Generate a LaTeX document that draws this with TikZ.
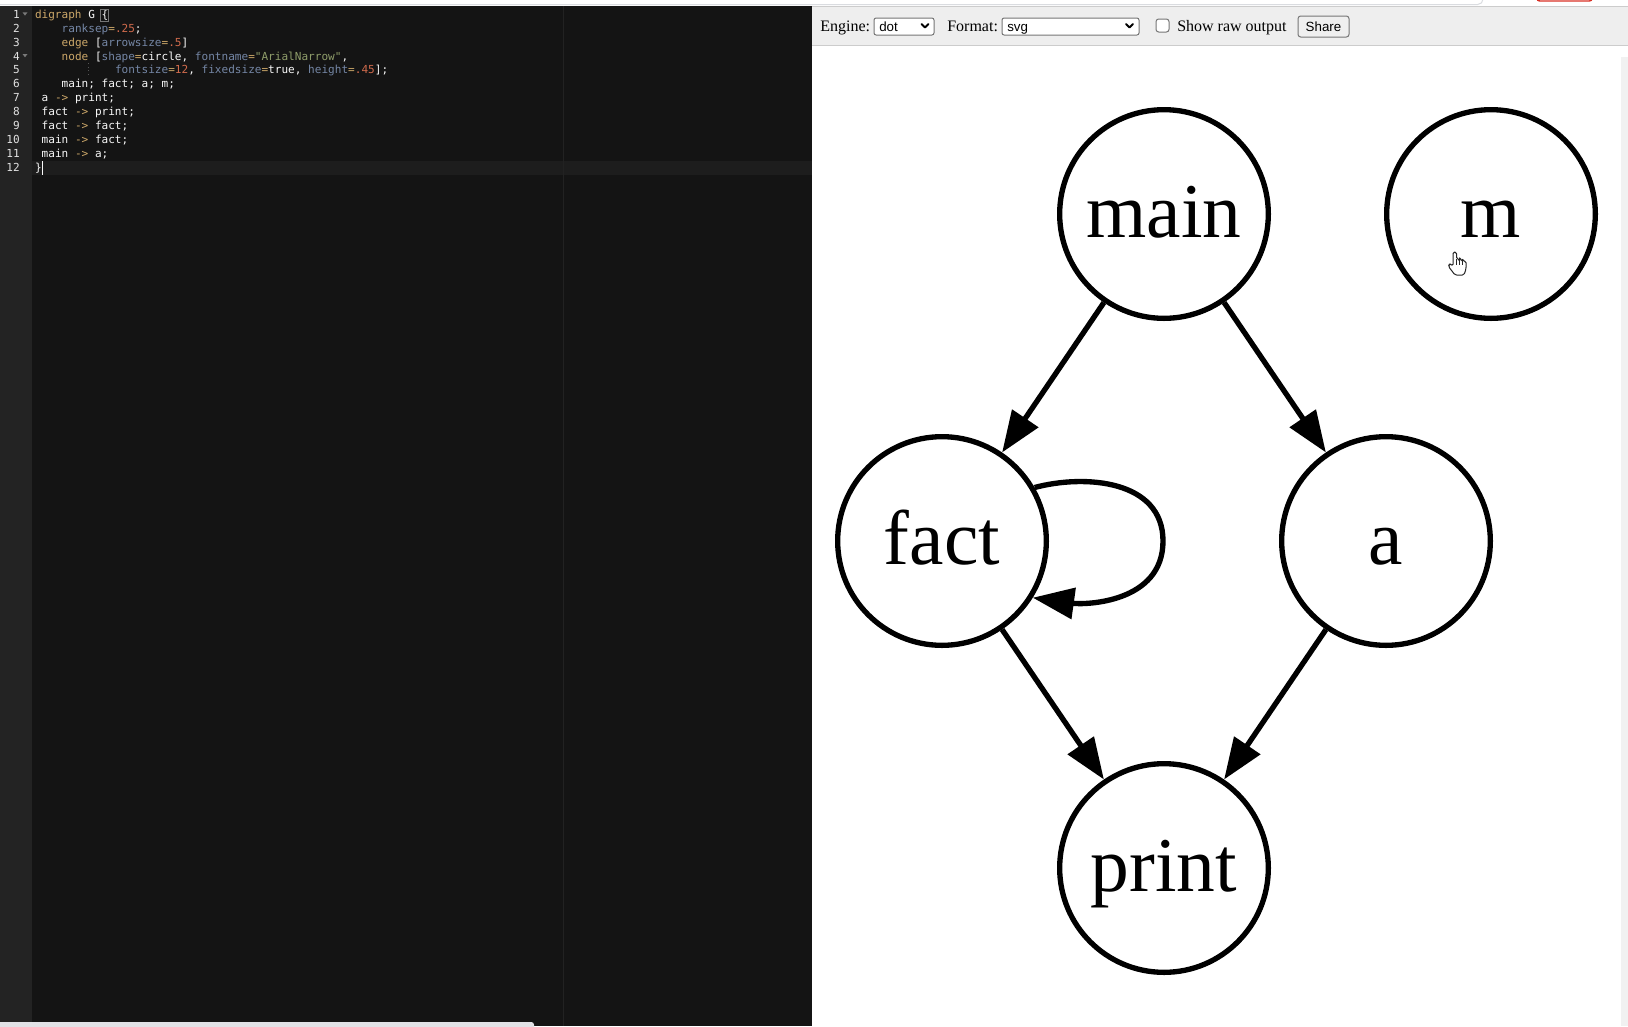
\documentclass[tikz,border=0pt]{standalone}
\usepackage{fontspec}
\setmainfont{Liberation Serif}
\newfontfamily\codefont{DejaVu Sans Mono}
\newfontfamily\uisans{Liberation Sans}
\newfontfamily\uiserif{Liberation Serif}
\usetikzlibrary{arrows.meta}
\definecolor{edbg}{HTML}{141414}
\definecolor{guttercol}{HTML}{232323}
\definecolor{activecol}{HTML}{1D1D1D}
\definecolor{margincol}{HTML}{222222}
\definecolor{ckwcol}{HTML}{CDA869}
\definecolor{cnumcol}{HTML}{CF6A4C}
\definecolor{cstrcol}{HTML}{8F9D6A}
\definecolor{cvarcol}{HTML}{7587A6}
\definecolor{ctxcol}{HTML}{F8F8F8}
\definecolor{lnumcol}{HTML}{E2E2E2}
\definecolor{foldcol}{HTML}{7A7A7A}
\definecolor{toolbg}{HTML}{EEEEEE}
\definecolor{toolline}{HTML}{CCCCCC}
\definecolor{ctrlborder}{HTML}{767676}
\definecolor{btnbg}{HTML}{EFEFEF}
\definecolor{topgray}{HTML}{DADCE0}
\definecolor{topred}{HTML}{D93025}
\definecolor{sbarcol}{HTML}{E2E2E6}
\definecolor{vbarcol}{HTML}{F1F1F1}
\newcommand\ckw[1]{\textcolor{ckwcol}{#1}}
\newcommand\cnum[1]{\textcolor{cnumcol}{#1}}
\newcommand\cstr[1]{\textcolor{cstrcol}{#1}}
\newcommand\cvar[1]{\textcolor{cvarcol}{#1}}
\newcommand\ctx[1]{\textcolor{ctxcol}{#1}}
\tikzset{
  codeline/.style={anchor=base west, inner sep=0pt, outer sep=0pt, text=ctxcol, font=\codefont\fontsize{8.3pt}{10pt}\selectfont},
  lnum/.style={anchor=base east, inner sep=0pt, text=lnumcol, font=\codefont\fontsize{8.3pt}{10pt}\selectfont},
  uitext/.style={anchor=base west, inner sep=0pt, text=black, font=\uiserif\fontsize{12pt}{14pt}\selectfont},
  ctrltext/.style={anchor=base west, inner sep=0pt, text=black, font=\uisans\fontsize{10pt}{12pt}\selectfont},
  ctrlbox/.style={draw=ctrlborder, fill=white, line width=0.75pt, rounded corners=1.6pt},
  chevron/.style={draw=black, line width=1.4pt, line cap=round, line join=round},
  gnode/.style={circle, draw=black, line width=4pt, minimum size=156.5pt, inner sep=0pt,
    font=\fontsize{58.1pt}{60pt}\selectfont, text height=34.5pt, text depth=0pt},
  gedge/.style={draw=black, line width=4pt, -{Triangle[length=31pt,width=23pt]}}
}
\begin{document}
\begin{tikzpicture}[x=0.75pt,y=-0.75pt]
\useasboundingbox (0,0) rectangle (1628,1026);
% page background
\fill[white] (0,0) rectangle (1628,1026);
% top strip
\draw[draw=topgray, fill=white, line width=0.75pt, rounded corners=4pt] (-10,-10) rectangle (1483,4.5);
\draw[draw=topred, line width=1.1pt, rounded corners=2pt] (1537,-10) rectangle (1592,1);
% editor
\fill[edbg] (0,6) rectangle (812,1026);
\fill[guttercol] (0,6) rectangle (32,1026);
\fill[activecol] (32,161) rectangle (812,175);
\draw[margincol, line width=0.75pt] (563.5,6) -- (563.5,1026);
\fill[sbarcol, rounded corners=2pt] (-6,1022) rectangle (534,1032);
% line numbers
\foreach \i in {1,...,12} {
  \node[lnum] (ln\i) at (20,{18.3+(\i-1)*13.9}) {\i};
}
% fold markers
\fill[foldcol] (22.5,12.3) -- (27.5,12.3) -- (25,15.6) -- cycle;
\fill[foldcol] (22.5,54.0) -- (27.5,54.0) -- (25,57.3) -- cycle;
% code
\node[codeline] (c1) at (35,18.3) {\ckw{digraph}\ctx{\ G\ \{}};
\node[codeline] (c2) at (61.7,32.2) {\cvar{ranksep}\ckw{=}\cnum{.25}\ctx{;}};
\node[codeline] (c3) at (61.7,46.1) {\ckw{edge}\ctx{\ [}\cvar{arrowsize}\ckw{=}\cnum{.5}\ctx{]}};
\node[codeline] (c4) at (61.7,60.0) {\ckw{node}\ctx{\ [}\cvar{shape}\ckw{=}\ctx{circle,\ }\cvar{fontname}\ckw{=}\cstr{"ArialNarrow"}\ctx{,}};
\node[codeline] (c5) at (115,73.9) {\cvar{fontsize}\ckw{=}\cnum{12}\ctx{,\ }\cvar{fixedsize}\ckw{=}\ctx{true,\ }\cvar{height}\ckw{=}\cnum{.45}\ctx{];}};
\node[codeline] (c6) at (61.7,87.8) {\ctx{main;\ fact;\ a;\ m;}};
\node[codeline] (c7) at (41.7,101.7) {\ctx{a\ }\ckw{->}\ctx{\ print;}};
\node[codeline] (c8) at (41.7,115.6) {\ctx{fact\ }\ckw{->}\ctx{\ print;}};
\node[codeline] (c9) at (41.7,129.5) {\ctx{fact\ }\ckw{->}\ctx{\ fact;}};
\node[codeline] (c10) at (41.7,143.4) {\ctx{main\ }\ckw{->}\ctx{\ fact;}};
\node[codeline] (c11) at (41.7,157.3) {\ctx{main\ }\ckw{->}\ctx{\ a;}};
\node[codeline] (c12) at (35,171.2) {\ctx{\}}};
% bracket match box, cursor, indent guide
\draw[draw=ctrlborder, line width=0.75pt] (100,9.5) rectangle (108.5,21.5);
\draw[ctxcol, line width=0.9pt] (42.8,161) -- (42.8,175);
\draw[foldcol!70!black, line width=0.75pt, dotted] (88,63) -- (88,77);
% toolbar
\fill[toolbg] (812,6) rectangle (1628,45);
\draw[toolline, line width=0.75pt] (812,6.5) -- (1628,6.5);
\draw[toolline, line width=1pt] (812,45.5) -- (1628,45.5);
\node[uitext] (engine) at (820,31) {Engine:};
\draw[ctrlbox] (874,18) rectangle (934,35);
\node[ctrltext] (dotv) at (879,31) {dot};
\draw[chevron] (921.5,24) -- (925,27.5) -- (928.5,24);
\node[uitext] (format) at (947,31) {Format:};
\draw[ctrlbox] (1002,18) rectangle (1139,35);
\node[ctrltext] (svgv) at (1007,31) {svg};
\draw[chevron] (1126,24) -- (1129.5,27.5) -- (1133,24);
\draw[ctrlbox, rounded corners=2pt] (1156,19) rectangle (1169,32);
\node[uitext] (raw) at (1177,31) {Show raw output};
\draw[draw=ctrlborder, fill=btnbg, line width=0.75pt, rounded corners=2pt] (1298,16) rectangle (1349,37);
\node[ctrltext, anchor=base] (share) at (1323.5,31) {Share};
% right scrollbar track
\fill[vbarcol] (1621,57) rectangle (1628,1026);
% graph
\node[gnode] (main) at (1164,214) {main};
\node[gnode] (mnode) at (1491,214) {m};
\node[gnode] (fact) at (942,541) {fact};
\node[gnode] (a) at (1386,541) {a};
\node[gnode] (print) at (1164,868) {print};
\draw[gedge] (main) -- (fact);
\draw[gedge] (main) -- (a);
\draw[gedge] (fact) -- (print);
\draw[gedge] (a) -- (print);
\draw[gedge] (fact.30) .. controls (1085,474) and (1163,480) .. (1163,541) .. controls (1163,603) and (1085,605) .. (fact.-32);
% mouse pointer
\begin{scope}[shift={(1448,251)}]
\draw[fill=white, draw=black!85, line width=0.75pt, line join=round, rounded corners=1.2pt]
  (5,15) -- (5,1) -- (8.5,1) -- (8.5,8) -- (11.5,8) -- (11.5,8.5) -- (14.5,8.5) -- (14.5,10) -- (18,10) -- (18,18) -- (16,24) -- (7,24) -- (0.5,15.5) -- (1,13) -- (3,13) -- cycle;
\draw[black!85, line width=0.6pt] (8.5,8) -- (8.5,14) (11.5,8.5) -- (11.5,14) (14.5,10) -- (14.5,14);
\end{scope}
\end{tikzpicture}
\end{document}
